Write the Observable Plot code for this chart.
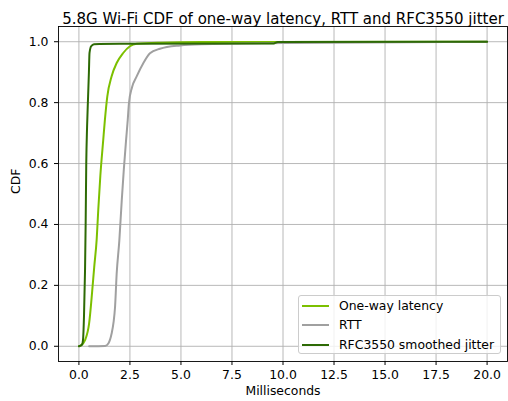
<!DOCTYPE html>
<html>
<head>
<meta charset="utf-8">
<script src="https://cdn.jsdelivr.net/npm/d3@7"></script>
<script src="https://cdn.jsdelivr.net/npm/@observablehq/plot@0.6"></script>
<style>
  html, body { margin: 0; padding: 0; background: #fff; }
  #wrap { position: relative; width: 508px; height: 401px; font-family: "DejaVu Sans", sans-serif; color: #000; }
  #legend { position: absolute; left: 298px; top: 295px; width: 203px; height: 59px;
    background: rgba(255,255,255,0.8); border: 1px solid #cccccc; border-radius: 3px; box-sizing: border-box; }
  .row { position: absolute; left: 0; height: 15px; font-size: 12.4px; line-height: 15px; white-space: nowrap; }
  .row .sw { position: absolute; left: 3px; top: 7px; width: 27px; height: 0; border-top: 2px solid; }
  .row .lab { position: absolute; left: 40px; top: 0; }
</style>
</head>
<body>
<div id="wrap"></div>
<script>
const title = "5.8G Wi-Fi CDF of one-way latency, RTT and RFC3550 jitter";
const xLabel = "Milliseconds";
const yLabel = "CDF";
const seriesNames = ["One-way latency", "RTT", "RFC3550 smoothed jitter"];
const seriesColors = ["#7cc000", "#a0a0a0", "#2d6a05"];
const xTicks = [0, 2.5, 5, 7.5, 10, 12.5, 15, 17.5, 20];
const yTicks = [0, 0.2, 0.4, 0.6, 0.8, 1.0];

// One-way latency CDF: [ms, cdf]
const oneWay = [
  [0, 0], [0.1, 0.003], [0.3, 0.02], [0.5, 0.075], [0.65, 0.18], [0.75, 0.26],
  [0.87, 0.35], [0.95, 0.45], [1.05, 0.56], [1.19, 0.676], [1.27, 0.741],
  [1.39, 0.82], [1.6, 0.886], [1.85, 0.93], [2.17, 0.963], [2.5, 0.985],
  [2.83, 0.993], [4, 0.997], [6, 0.999], [20, 1.0]
];
// RTT CDF
const rtt = [
  [0.5, 0], [1.28, 0.001], [1.45, 0.01], [1.6, 0.041], [1.7, 0.08], [1.77, 0.128],
  [1.85, 0.238], [1.98, 0.347], [2.1, 0.48], [2.2, 0.58], [2.31, 0.676],
  [2.39, 0.741], [2.45, 0.797], [2.6, 0.85], [2.83, 0.886], [3.16, 0.93],
  [3.48, 0.962], [3.97, 0.977], [4.96, 0.988], [6, 0.992], [10, 0.996], [20, 1.0]
];
// RFC3550 smoothed jitter CDF
const jitter = [
  [0, 0], [0.15, 0.005], [0.2, 0.02], [0.25, 0.1], [0.3, 0.25], [0.33, 0.4],
  [0.36, 0.6], [0.4, 0.72], [0.45, 0.82], [0.49, 0.9], [0.52, 0.963],
  [0.6, 0.985], [0.74, 0.992], [2, 0.993], [9.5, 0.994], [9.75, 0.999], [20, 1.0]
];

const seriesData = [oneWay, rtt, jitter];
const rows = seriesData.flatMap((arr, i) => arr.map(([x, y]) => ({x, y, s: seriesNames[i]})));

const chart = Plot.plot({
  width: 508,
  height: 401,
  marginLeft: 58,
  marginRight: 1,
  marginTop: 26,
  marginBottom: 40,
  style: { fontFamily: "DejaVu Sans, sans-serif", fontSize: "12.4px", color: "#000", background: "#fff" },
  x: { domain: [-1, 21] },
  y: { domain: [-0.05, 1.05] },
  color: { domain: seriesNames, range: seriesColors },
  marks: [
    Plot.gridX(xTicks, { stroke: "#b0b0b0", strokeOpacity: 1, strokeWidth: 0.9 }),
    Plot.gridY(yTicks, { stroke: "#b0b0b0", strokeOpacity: 1, strokeWidth: 0.9 }),
    Plot.axisX(xTicks, { tickFormat: d3.format(".1f"), tickSize: 4, tickPadding: 5, label: null, fontSize: 12.4 }),
    Plot.axisY(yTicks, { tickFormat: d3.format(".1f"), tickSize: 4, tickPadding: 6, label: null, fontSize: 12.4 }),
    Plot.line(rows, { x: "x", y: "y", z: "s", stroke: "s", strokeWidth: 2, curve: "monotone-x" }),
    Plot.frame({ stroke: "#000", strokeWidth: 0.9 }),
    Plot.text([title], { frameAnchor: "top", dy: -13, fontSize: 15, fill: "#000" }),
    Plot.text([xLabel], { frameAnchor: "bottom", dy: 33.5, fontSize: 12.4, fill: "#000" }),
    Plot.text([yLabel], { frameAnchor: "left", dx: -42, rotate: -90, fontSize: 12.4, fill: "#000" })
  ]
});

const wrap = document.getElementById("wrap");
wrap.appendChild(chart);

const legend = document.createElement("div");
legend.id = "legend";
seriesNames.forEach((name, i) => {
  const row = document.createElement("div");
  row.className = "row";
  row.style.top = (1.5 + i * 19.5) + "px";
  const sw = document.createElement("span");
  sw.className = "sw";
  sw.style.borderTopColor = seriesColors[i];
  const lab = document.createElement("span");
  lab.className = "lab";
  lab.textContent = name;
  row.appendChild(sw);
  row.appendChild(lab);
  legend.appendChild(row);
});
wrap.appendChild(legend);
</script>
</body>
</html>
